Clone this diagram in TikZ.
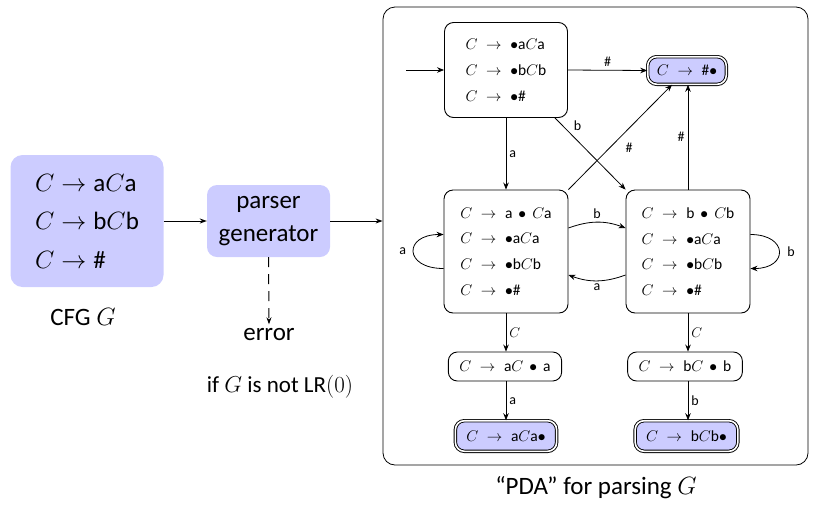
\documentclass[tikz,border=0pt]{standalone}
\IfFileExists{fix-cm.sty}{\usepackage{fix-cm}}{}
\usepackage{fontspec}
\setmainfont{Carlito}
\setsansfont{Carlito}
\usetikzlibrary{arrows.meta}
\newcommand{\ts}[1]{\textsf{#1}}
\tikzset{
  bigtext/.style={font=\fontsize{25}{30}\selectfont},
  lav/.style={fill=blue!20, rounded corners=12pt},
  state/.style={draw, line width=0.9pt, rounded corners=9pt, fill=white, align=left,
    font=\fontsize{15.5}{25.7}\selectfont, inner sep=0pt},
  smallstate/.style={state, inner xsep=11pt, minimum height=29pt},
  final/.style={smallstate, fill=blue!20, double, double distance=1.6pt, minimum height=30.6pt},
  arr/.style={-{Stealth[length=7pt,width=5.5pt]}, line width=0.8pt},
  mainarr/.style={-{Stealth[length=7pt,width=5pt]}, line width=1pt},
  lbl/.style={font=\fontsize{14}{16}\sffamily, inner sep=3pt},
}
\begin{document}
\begin{tikzpicture}[x=1pt,y=-1pt]
\useasboundingbox (0,0) rectangle (813,507);

% left part
\node[lav, minimum width=153pt, minimum height=132pt, align=left,
      font=\fontsize{25}{38.5}\selectfont] (cfg) at (87,221)
  {$C\rightarrow\ts{a}C\ts{a}$\\$C\rightarrow\ts{b}C\ts{b}$\\$C\rightarrow\ts{\#}$};
\node[bigtext, anchor=base] (cfglbl) at (83,325) {CFG $G$};
\node[lav, rounded corners=10pt, minimum width=123pt, minimum height=72pt, align=center,
      font=\fontsize{25}{33}\selectfont] (pg) at (268.5,221) {parser\\generator};
\node[bigtext, anchor=base] (err) at (269,340) {error};
\node[font=\fontsize{23}{28}\selectfont, anchor=base] (notlr) at (280,392) {if $G$ is not LR$(0)$};

% big box
\node[draw, line width=0.8pt, rounded corners=12pt, minimum width=425pt, minimum height=458pt,
      inner sep=0pt] (big) at (595.5,236) {};
\node[bigtext, anchor=base] (pdalbl) at (596,494) {“PDA” for parsing $G$};

\draw[mainarr] (cfg.east) -- (pg.west);
\draw[mainarr] (pg.east) -- (pg.east -| big.west);
\draw[mainarr, dashed, dash pattern=on 10pt off 7pt] (pg.south) -- (err.north);

% PDA states
\node[state, minimum width=123pt, minimum height=95pt] (s0) at (506,70)
  {$C\;\rightarrow\;\bullet\ts{a}C\ts{a}$\\$C\;\rightarrow\;\bullet\ts{b}C\ts{b}$\\$C\;\rightarrow\;\bullet\ts{\#}$};
\node[final, minimum width=78.6pt, minimum height=27.6pt, inner xsep=6pt] (acc) at (687,70.5)
  {$C\;\rightarrow\;\ts{\#}\bullet$};
\node[state, minimum width=124pt, minimum height=123pt] (L) at (506,251.5)
  {$C\;\rightarrow\;\ts{a}\,\bullet\,C\ts{a}$\\$C\;\rightarrow\;\bullet\ts{a}C\ts{a}$\\$C\;\rightarrow\;\bullet\ts{b}C\ts{b}$\\$C\;\rightarrow\;\bullet\ts{\#}$};
\node[state, minimum width=124pt, minimum height=123pt] (R) at (688,251.5)
  {$C\;\rightarrow\;\ts{b}\,\bullet\,C\ts{b}$\\$C\;\rightarrow\;\bullet\ts{a}C\ts{a}$\\$C\;\rightarrow\;\bullet\ts{b}C\ts{b}$\\$C\;\rightarrow\;\bullet\ts{\#}$};
\node[smallstate] (LM) at (505,366.5) {$C\;\rightarrow\;\ts{a}C\,\bullet\,\ts{a}$};
\node[smallstate] (RM) at (685,366.5) {$C\;\rightarrow\;\ts{b}C\,\bullet\,\ts{b}$};
\node[final] (LF) at (506,436) {$C\;\rightarrow\;\ts{a}C\ts{a}\bullet$};
\node[final] (RF) at (686.5,436) {$C\;\rightarrow\;\ts{b}C\ts{b}\bullet$};

\coordinate (start) at (406,70);

% PDA edges
\draw[arr] (start) -- (s0.west);
\draw[arr] (s0.east) -- (acc.west) node[midway, above, lbl] {\#};
\draw[arr] (s0.south) -- (s0.south |- L.north) node[midway, right, lbl] {a};
\draw[arr] ([xshift=49pt]s0.south) -- (R.north west) node[pos=.22, above right, lbl] {b};
\draw[arr] (L.north east) -- ([xshift=-15pt]acc.south) node[pos=.48, below right, xshift=4pt, lbl] {\#};
\draw[arr] (R.north) -- (R.north |- acc.south) node[midway, left, lbl] {\#};
\draw[arr] ([yshift=23.5pt]L.east) to[bend left=20] node[above, lbl] {b} ([yshift=23.5pt]R.west);
\draw[arr] ([yshift=-23.5pt]R.west) to[bend left=20] node[below, lbl] {a} ([yshift=-23.5pt]L.east);
\draw[arr] ([yshift=-17pt]L.west) to[out=180, in=180, out distance=40pt, in distance=40pt]
  node[left=4pt, lbl] {a} ([yshift=17pt]L.west);
\draw[arr] ([yshift=17pt]R.east) to[out=0, in=0, out distance=38pt, in distance=38pt]
  node[right=5pt, lbl] {b} ([yshift=-17pt]R.east);
\draw[arr] (L.south) -- (L.south |- LM.north) node[midway, right, lbl, font=\fontsize{14}{16}\selectfont] {$C$};
\draw[arr] (R.south) -- (R.south |- RM.north) node[midway, right, lbl, font=\fontsize{14}{16}\selectfont] {$C$};
\draw[arr] (L.south |- LM.south) -- (L.south |- LF.north) node[midway, right, lbl] {a};
\draw[arr] (R.south |- RM.south) -- (R.south |- RF.north) node[midway, right, lbl] {b};
\end{tikzpicture}
\end{document}
